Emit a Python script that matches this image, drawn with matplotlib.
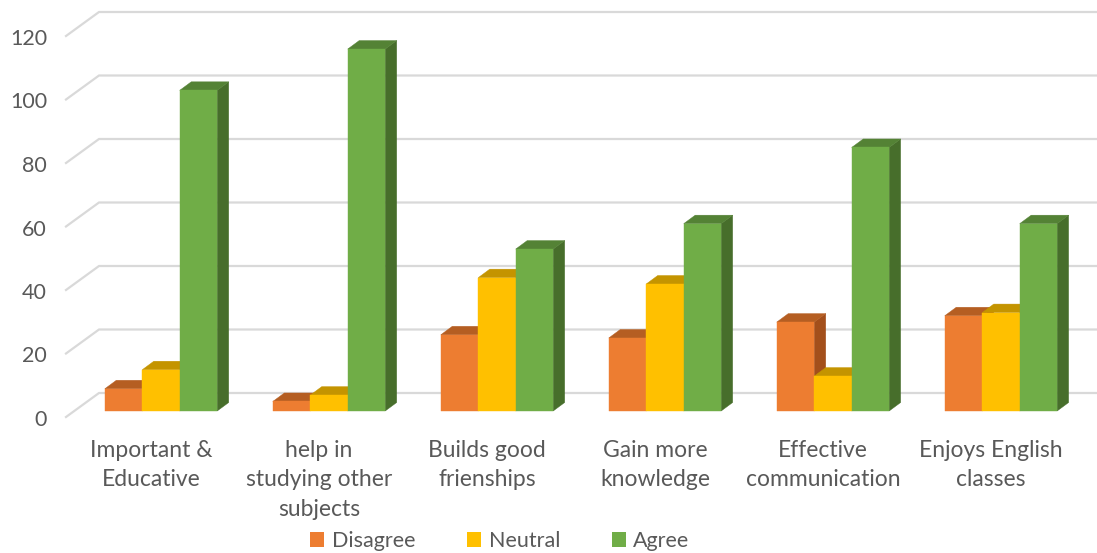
import matplotlib
matplotlib.use("Agg")
import matplotlib.pyplot as plt
from matplotlib.patches import Polygon, Patch
from matplotlib.transforms import ScaledTranslation

categories = ["Important &\nEducative", "help in\nstudying other\nsubjects",
              "Builds good\nfrienships", "Gain more\nknowledge",
              "Effective\ncommunication", "Enjoys English\nclasses"]
series = ["Disagree", "Neutral", "Agree"]
disagree = [7, 3, 24, 23, 28, 30]
neutral = [13, 5, 42, 40, 11, 31]
agree = [101, 114, 51, 59, 83, 59]
yticks = [0, 20, 40, 60, 80, 100, 120]

# front, top, side colours per series
colors = {
    "Disagree": ("#ED7D31", "#B55E22", "#A34F1B"),
    "Neutral": ("#FFC000", "#C49400", "#B88A00"),
    "Agree": ("#70AD47", "#548235", "#476E2B"),
}
text_color = "#595959"
grid_color = "#D9D9D9"

plt.rcParams["font.family"] = ["Lato", "DejaVu Sans"]

W, H = 1097, 553
fig = plt.figure(figsize=(W / 100, H / 100), dpi=100)
# axes box = plane of the bar front faces
ax = fig.add_axes([74 / W, (H - 411) / H, 998 / W, 381 / H])
ax.set_xlim(-0.518, 5.423)
ax.set_ylim(0, 120)
ax.axis("off")
fig.canvas.draw()

# depth offsets in pixels
BAR_D = (11.5, 8.5)
BACK_D = (25, 18)
FRONT_D = (-8, -6)


def shift(x, y, d):
    px, py = ax.transData.transform((x, y))
    return ax.transData.inverted().transform((px + d[0], py + d[1]))


# back wall gridlines + left wall diagonals
x0, x1 = ax.get_xlim()
for v in yticks:
    front = shift(x0, v, FRONT_D)
    back_l = shift(x0, v, BACK_D)
    back_r = shift(x1, v, BACK_D)
    ax.plot([front[0], back_l[0], back_r[0]], [front[1], back_l[1], back_r[1]],
            color=grid_color, lw=1.6, zorder=1, clip_on=False,
            solid_joinstyle="miter")
    ax.text(x0, v, str(v), ha="right", va="center", fontsize=15.5, color=text_color,
            transform=ax.transData + ScaledTranslation(-0.27, -0.09, fig.dpi_scale_trans))

w = 0.223
values = [disagree, neutral, agree]
for i in range(len(categories)):
    for j, name in enumerate(series):
        v = values[j][i]
        xc = i + (j - 1) * w
        xl, xr = xc - w / 2, xc + w / 2
        k = i * 3 + j
        fc, tc, sc = colors[name]
        side = [(xr, 0), (xr, v), tuple(shift(xr, v, BAR_D)), tuple(shift(xr, 0, BAR_D))]
        top = [(xl, v), (xr, v), tuple(shift(xr, v, BAR_D)), tuple(shift(xl, v, BAR_D))]
        ax.add_patch(Polygon(side, closed=True, facecolor=sc, edgecolor=sc, lw=0.3,
                             zorder=10 + 3 * k, clip_on=False))
        ax.add_patch(Polygon(top, closed=True, facecolor=tc, edgecolor=tc, lw=0.3,
                             zorder=11 + 3 * k, clip_on=False))
        ax.bar(xc, v, width=w, color=fc, edgecolor=fc, lw=0.3,
               zorder=12 + 3 * k, clip_on=False)

# category labels
for i, lab in enumerate(categories):
    ax.text(i, 0, lab, ha="center", va="top", fontsize=16.5, color=text_color,
            linespacing=1.5,
            transform=ax.transData + ScaledTranslation(-0.10, -0.29, fig.dpi_scale_trans))

handles = [Patch(facecolor=colors[s][0], edgecolor="none", label=s) for s in series]
leg = fig.legend(handles=handles, loc="center", bbox_to_anchor=(500 / W, 1 - 541 / H),
                 ncol=3, frameon=False, fontsize=15.5, handlelength=0.65, handleheight=0.65,
                 handletextpad=0.35, columnspacing=2.4)
for t in leg.get_texts():
    t.set_color(text_color)

fig.savefig("out.png", dpi=100)
